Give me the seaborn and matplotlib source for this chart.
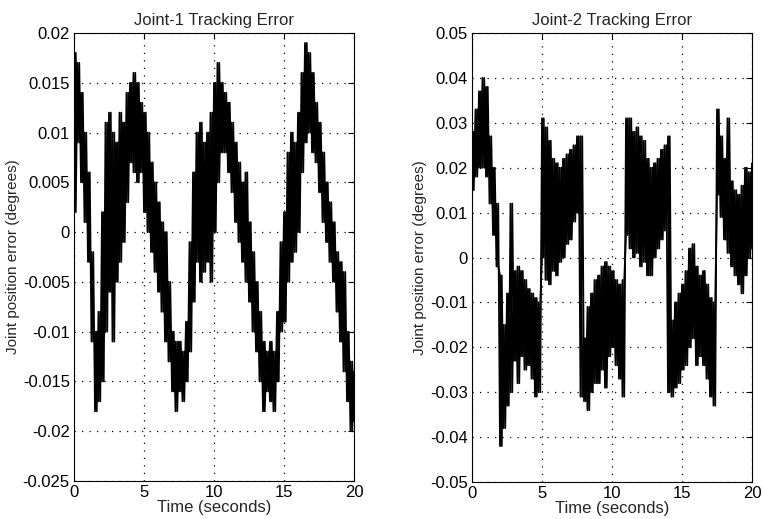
import numpy as np
import pandas as pd
import seaborn as sns
import matplotlib
matplotlib.use("Agg")
import matplotlib.pyplot as plt

# --- data ---
# lower / upper edge of the noisy error trace, every 0.25 s from 0 to 20 s,
# in units of 1e-3 degrees
j1_lo = [2, 9, 5, 1, -3, -11, -18, -17, -15, -10,
         -6, -11, -5, -3, -1, 3, 7, 6, 5, 6,
         2, 0, -2, -4, -6, -8, -11, -13, -16, -18,
         -16, -17, -15, -12, -7, -3, -5, -4, -3, -5,
         0, 5, 8, 8, 6, 4, 1, -1, -3, -5,
         -7, -10, -12, -15, -18, -16, -17, -18, -15, -10,
         -9, -5, -3, -2, 0, 6, 9, 10, 8, 7,
         4, 1, -1, -3, -5, -8, -11, -14, -17, -20,
         -19]
j1_hi = [18, 17, 14, 10, 6, -2, -10, -8, 2, 11,
         12, 10, 9, 12, 11, 14, 15, 16, 15, 13,
         12, 10, 7, 5, 3, 1, 0, -5, -10, -11,
         -11, -12, -9, -1, 6, 10, 11, 9, 10, 12,
         15, 17, 15, 14, 13, 11, 9, 7, 5, 6,
         1, -2, -5, -8, -11, -12, -11, -12, -8, -1,
         2, 8, 10, 9, 12, 16, 19, 18, 16, 13,
         11, 8, 5, 3, 1, -2, -3, -4, -10, -13,
         -14]

j2_lo = [15, 18, 20, 20, 18, 12, 5, -2, -42, -38,
         -33, -30, -23, -28, -22, -25, -24, -27, -31, -30,
         0, -5, -6, -3, -4, -1, 0, 3, 4, 8,
         10, -31, -32, -34, -30, -28, -28, -25, -29, -22,
         -20, -24, -27, -31, 5, 2, 0, 1, -2, -1,
         -4, -4, 0, 2, 4, 6, -30, -31, -29, -28,
         -25, -24, -20, -18, -24, -22, -24, -27, -31, -33,
         14, 9, 4, 1, -2, -4, -6, -8, -4, 0,
         2]
j2_hi = [28, 33, 37, 40, 38, 27, 20, 12, -4, -15,
         -8, 12, -3, -2, -3, -5, -7, -8, -9, -10,
         31, 29, 26, 22, 21, 20, 22, 23, 24, 25,
         27, 27, -18, -11, -8, -5, -4, -2, -1, -2,
         -3, -5, -6, -5, 31, 31, 28, 29, 27, 26,
         22, 20, 21, 22, 24, 25, 27, -14, -10, -8,
         -6, -3, 2, 3, -2, -4, -3, -6, -9, -10,
         33, 27, 22, 31, 17, 15, 14, 16, 20, 19,
         21]

x_ticks = [0, 5, 10, 15, 20]
j1_yticks = [-0.025, -0.02, -0.015, -0.01, -0.005, 0, 0.005, 0.01, 0.015, 0.02]
j2_yticks = [-0.05, -0.04, -0.03, -0.02, -0.01, 0, 0.01, 0.02, 0.03, 0.04, 0.05]
titles = ["Joint-1 Tracking Error", "Joint-2 Tracking Error"]


def trace(lo, hi, flip=False):
    # zig-zag between the two edges, like the dense sensor noise
    t = np.linspace(0, 20, len(hi))
    half = (t[1] - t[0]) / 2
    x = np.column_stack([t, t + half]).ravel()
    pair = [lo, hi] if flip else [hi, lo]
    y = np.column_stack(pair).ravel() * 1e-3
    return pd.DataFrame({"time": x, "err": y})


sns.set_style("white")
plt.rcParams["font.family"] = ["Liberation Sans", "DejaVu Sans"]
plt.rcParams["axes.unicode_minus"] = False

fig = plt.figure(figsize=(7.64, 5.19), dpi=100)
ax1 = fig.add_axes([74 / 764, 1 - 481 / 519, 280 / 764, 448 / 519])
ax2 = fig.add_axes([472 / 764, 1 - 482 / 519, 280 / 764, 449 / 519])

panels = [(ax1, j1_lo, j1_hi, j1_yticks, titles[0]),
          (ax2, j2_lo, j2_hi, j2_yticks, titles[1])]

for ax, lo, hi, yticks, title in panels:
    # two passes, out of phase, so the band fills in like the scan
    for flip in (False, True):
        df = trace(lo, hi, flip)
        sns.lineplot(data=df, x="time", y="err", ax=ax, color="black",
                     linewidth=1.3, sort=False, estimator=None)
    ax.set_xlim(0, 20)
    ax.set_ylim(yticks[0], yticks[-1])
    ax.set_xticks(x_ticks)
    ax.set_yticks(yticks)
    ax.set_xticklabels([f"{v:g}" for v in x_ticks])
    ax.set_yticklabels([f"{v:g}" for v in yticks])
    ax.grid(True, color="black", linestyle=(0, (1, 5)), linewidth=0.9)
    ax.tick_params(direction="in", top=True, right=True, length=4,
                   width=0.8, labelsize=12, pad=3, colors="black")
    for s in ax.spines.values():
        s.set_color("black")
        s.set_linewidth(0.8)
    ax.set_title(title, fontsize=12, pad=6)
    ax.set_xlabel("Time (seconds)", fontsize=12, labelpad=0)
    ax.set_ylabel("Joint position error (degrees)", fontsize=11, labelpad=2)

fig.savefig("out.png", dpi=100)
